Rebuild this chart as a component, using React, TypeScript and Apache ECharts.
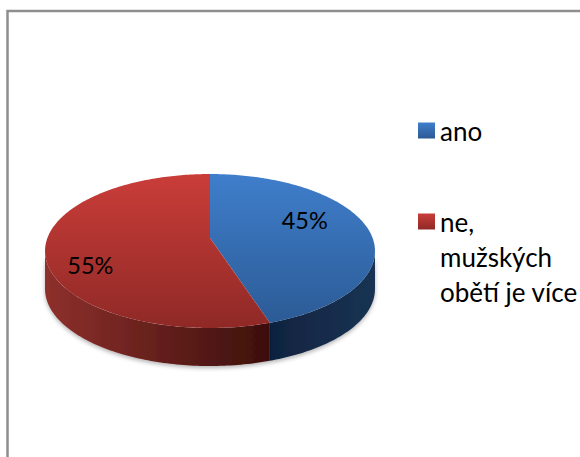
import React, { useEffect, useRef } from "react";
import * as echarts from "echarts";

const categories = ["ano", "ne,\nmužských\nobětí je více"];
const values = [45, 55];
const topStops = [["#3f7ecb", "#2b5a94"], ["#ca3d39", "#8f2926"]];
const sideStops = [["#10233f", "#1a3353"], ["#8e302c", "#3d0f0c"]];
const labelRadius = [0.59, 0.745];
const FONT = "Lato";

const CX = 210, CY = 238, A = 162.6, B = 74.8, K = 0.169, DEPTH = 38;

const project = (deg: number, dy = 0): number[] => {
  const a = (deg * Math.PI) / 180;
  const s = Math.sin(a), c = Math.cos(a);
  const w = 1 + K * c;
  return [CX + (A * s) / w, CY - (B * c) / w + dy];
};

const total = values.reduce((p, v) => p + v, 0);
const startDeg = (i: number) => (values.slice(0, i).reduce((p, v) => p + v, 0) / total) * 360;
const EXT = (Math.acos(-K) * 180) / Math.PI;

const arc = (from: number, to: number, dy = 0) => {
  const pts: number[][] = [];
  const n = Math.max(2, Math.ceil(to - from));
  for (let i = 0; i <= n; i++) pts.push(project(from + ((to - from) * i) / n, dy));
  return pts;
};

const grad = (x: number, y: number, x2: number, y2: number, c: string[]) =>
  new echarts.graphic.LinearGradient(x, y, x2, y2, [{ offset: 0, color: c[0] }, { offset: 1, color: c[1] }], true);

const makeRender = (idx: number) => (_p: any, api: any) => {
  const value = api.value(0);
  const from = startDeg(idx);
  const to = from + (value / total) * 360;
  const children: any[] = [];
  const sFrom = Math.max(from, EXT);
  const sTo = Math.min(to, 360 - EXT);
  if (sTo > sFrom) {
    const upper = arc(sFrom, sTo);
    const lower = arc(sFrom, sTo, DEPTH).reverse();
    const xs = upper.map((p) => p[0]);
    children.push({
      type: "polygon",
      shape: { points: upper.concat(lower) },
      style: {
        fill: grad(Math.min(...xs), 0, Math.max(...xs), 0, sideStops[idx]),
        shadowBlur: 4,
        shadowColor: "rgba(0,0,0,0.3)",
        shadowOffsetY: 2,
      },
    });
  }
  children.push({
    type: "polygon",
    shape: { points: [[CX, CY]].concat(arc(from, to)) },
    style: { fill: grad(0, 174, 0, 328, topStops[idx]) },
  });
  const mid = (from + to) / 2;
  const r = labelRadius[idx];
  const a = (mid * Math.PI) / 180;
  const lx = CX + A * r * Math.sin(a);
  const ly = CY - B * r * Math.cos(a) + (idx === 0 ? -11 : 18);
  children.push({
    type: "text",
    style: {
      text: `${value}%`,
      x: lx,
      y: ly,
      align: "center",
      verticalAlign: "middle",
      fill: "#000000",
      font: `23.5px ${FONT}`,
    },
  });
  return { type: "group", children };
};

export default function App() {
  const ref = useRef<HTMLDivElement>(null);
  useEffect(() => {
    const chart = echarts.init(ref.current!, undefined, { renderer: "svg" });
    chart.setOption({
      animation: false,
      backgroundColor: "#ffffff",
      legend: {
        orient: "vertical",
        left: 418,
        top: 113,
        padding: 0,
        itemWidth: 17,
        itemHeight: 16,
        itemGap: -14,
        selectedMode: false,
        icon: "rect",
        textStyle: { fontFamily: FONT, fontSize: 26, lineHeight: 35, color: "#000000" },
        formatter: (name: string) => (name.includes("\n") ? `\n\n${name}` : name),
        data: categories,
      },
      graphic: [
        {
          type: "polyline",
          silent: true,
          shape: { points: [[7.5, 457], [7.5, 11], [580, 11]] },
          style: { stroke: "#8e8e8e", lineWidth: 2.5, fill: "none" },
        },
      ],
      series: categories.map((name, i) => ({
        type: "custom",
        name,
        coordinateSystem: "none",
        renderItem: makeRender(i),
        itemStyle: { color: new echarts.graphic.LinearGradient(0, 0, 0, 1, [{ offset: 0, color: topStops[i][0] }, { offset: 1, color: topStops[i][1] }]) },
        data: [[values[i]]],
      })),
    });
    return () => chart.dispose();
  }, []);
  return <div ref={ref} style={{ position: "absolute", left: 0, top: 0, width: 580, height: 457 }} />;
}
